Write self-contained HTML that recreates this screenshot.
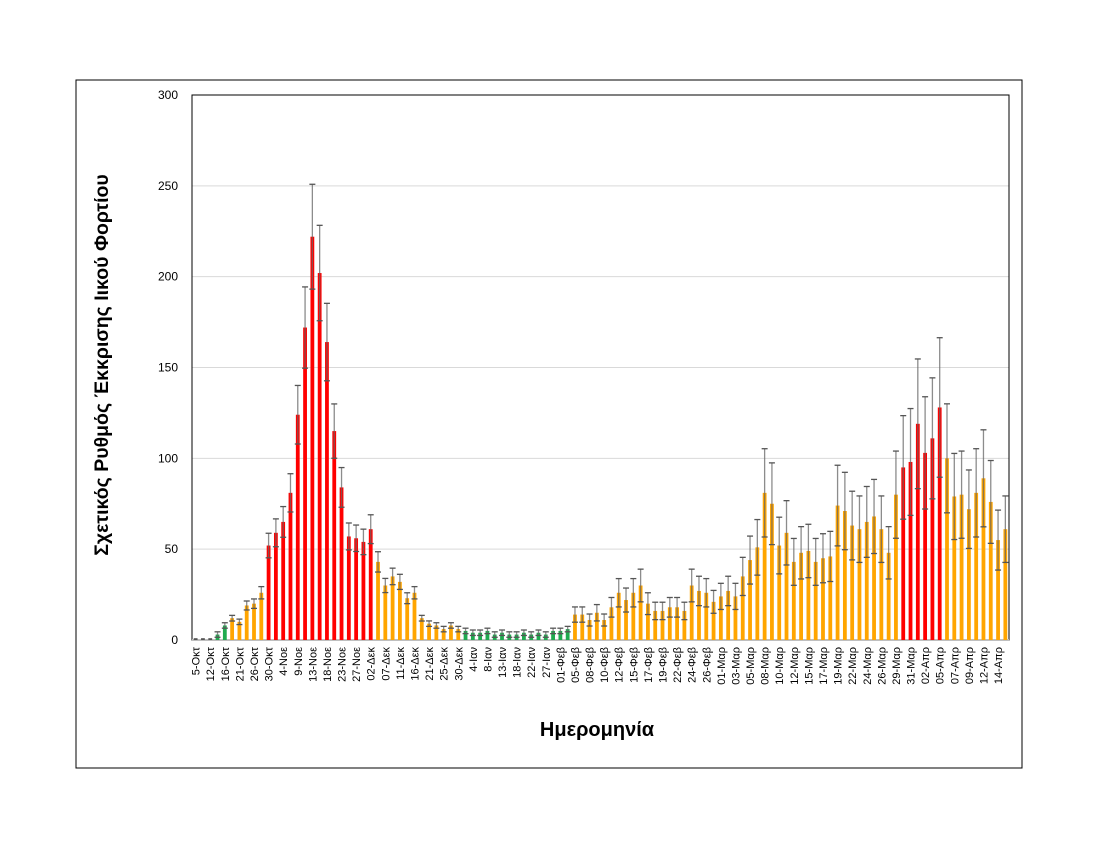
<!DOCTYPE html>
<html><head><meta charset="utf-8"><style>
html,body{margin:0;padding:0;background:#fff;}
svg{display:block;font-family:"Liberation Sans",sans-serif;}
</style></head><body>
<svg id="c" width="1100" height="850" xmlns="http://www.w3.org/2000/svg">
<rect x="76" y="80" width="946" height="688" fill="#fff" stroke="#000" stroke-width="1"/>
<g id="grid"></g>
<g id="bars"></g>
<g id="errs"></g>
<g id="lbl"></g>
<text x="597" y="736" font-size="20" font-weight="bold" text-anchor="middle">Ημερομηνία</text>
<text transform="translate(108,365) rotate(-90)" font-size="19.5" font-weight="bold" text-anchor="middle">Σχετικός Ρυθμός Έκκρισης Ιικού Φορτίου</text>
</svg>
<script>
var v=[1,1,1,3,8,12,10,19,20,26,52,59,65,81,124,172,222,202,164,115,84,57,56,54,61,43,30,35,32,23,26,12,9,8,6,8,6,5,4,4,5,3,4,3,3,4,3,4,3,5,5,6,
14,14,11,15,11,18,26,22,26,30,20,16,16,18,18,16,30,27,26,21,24,27,24,35,44,51,81,75,52,59,
43,48,49,43,45,46,74,71,63,61,65,68,61,48,80,95,98,119,103,111,128,100,79,80,72,81,89,76,55,61];
var labs=["5-Οκτ","12-Οκτ","16-Οκτ","21-Οκτ","26-Οκτ","30-Οκτ","4-Νοε","9-Νοε","13-Νοε","18-Νοε","23-Νοε","27-Νοε","02-Δεκ","07-Δεκ","11-Δεκ","16-Δεκ","21-Δεκ","25-Δεκ","30-Δεκ","4-Ιαν","8-Ιαν","13-Ιαν","18-Ιαν","22-Ιαν","27-Ιαν","01-Φεβ","05-Φεβ","08-Φεβ","10-Φεβ","12-Φεβ","15-Φεβ","17-Φεβ","19-Φεβ","22-Φεβ","24-Φεβ","26-Φεβ","01-Μαρ","03-Μαρ","05-Μαρ","08-Μαρ","10-Μαρ","12-Μαρ","15-Μαρ","17-Μαρ","19-Μαρ","22-Μαρ","24-Μαρ","26-Μαρ","29-Μαρ","31-Μαρ","02-Απρ","05-Απρ","07-Απρ","09-Απρ","12-Απρ","14-Απρ"];
var L=192,R=1009,T=95,B=640,k=(B-T)/300,step=(R-L)/112;
function Y(val){return B-val*k;}
var g="",b="",e="",l="";
for(var t=0;t<=300;t+=50){var y=Y(t);
 if(t>0)g+='<line x1="'+L+'" x2="'+R+'" y1="'+y+'" y2="'+y+'" stroke="#d9d9d9" stroke-width="1"/>';
 g+='<text x="178" y="'+(y+4)+'" font-size="12" text-anchor="end">'+t+'</text>';}
g+='<rect x="'+L+'" y="'+T+'" width="'+(R-L)+'" height="'+(B-T)+'" fill="none" stroke="#000" stroke-width="1"/>';
g+='<line x1="'+L+'" x2="'+R+'" y1="'+B+'" y2="'+B+'" stroke="#bfbfbf" stroke-width="2"/>';
for(var i=0;i<v.length;i++){
 var c=i<3?"#555":i<5?"#1faa4f":i<10?"#ffa500":i<25?"#ff0000":i<37?"#ffa500":i<52?"#1faa4f":i<97?"#ffa500":i<103?"#ff0000":"#ffa500";
 var x=L+step*(i+0.5),w=3.8,val=v[i];
 b+='<rect x="'+(x-w/2)+'" y="'+Y(val)+'" width="'+w+'" height="'+(val*k)+'" fill="'+c+'"/>';
 if(i<3)continue;
 var f=i<52?0.13:0.3, d=Math.max(1.5,val*f);
 var y1=Y(val+d),y2=Y(Math.max(0,val-d));
 e+='<line x1="'+x+'" x2="'+x+'" y1="'+y1+'" y2="'+y2+'" stroke="#666" stroke-opacity="0.75" stroke-width="1.3"/>';
 e+='<line x1="'+(x-3)+'" x2="'+(x+3)+'" y1="'+y1+'" y2="'+y1+'" stroke="#555" stroke-width="1.3"/>';
 e+='<line x1="'+(x-3)+'" x2="'+(x+3)+'" y1="'+y2+'" y2="'+y2+'" stroke="#555" stroke-width="1.3"/>';
}
for(var j=0;j<labs.length;j++){var x=L+step*(2*j+0.5)+4;
 l+='<text transform="translate('+x+',647) rotate(-90)" font-size="11" text-anchor="end">'+labs[j]+'</text>';}
document.getElementById("grid").innerHTML=g;
document.getElementById("bars").innerHTML=b;
document.getElementById("errs").innerHTML=e;
document.getElementById("lbl").innerHTML=l;
</script>
</body></html>
